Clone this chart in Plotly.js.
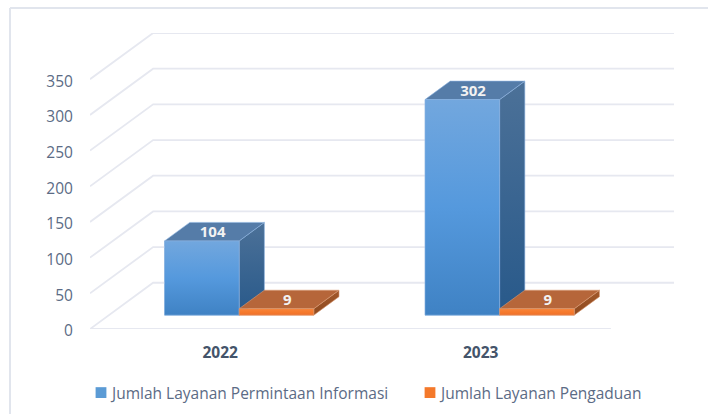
<!DOCTYPE html>
<html><head><meta charset="utf-8">
<script src="https://cdn.plot.ly/plotly-3.0.1.min.js"></script>
<style>html,body{margin:0;padding:0;background:#fff}#c{width:708px;height:414px}</style>
</head><body><div id="c"></div>
<script>
const categories = ['2022', '2023'];
const permintaan = [104, 302];
const pengaduan = [9, 9];
const seriesNames = ['Jumlah Layanan Permintaan Informasi', 'Jumlah Layanan Pengaduan'];
const yTicks = [0, 50, 100, 150, 200, 250, 300, 350];

// oblique projection of the depth axis, in axis units per unit of depth
const DX = 0.2423, DY = 64.8;
const BAR_W = 0.2865, D0 = 0.3, D1 = 0.7;
const px = (x, d) => x + DX * d;
const py = (v, d) => v + DY * d;
const FONT = '"Open Sans", sans-serif';
const GRID = '#E6E8F0';
const traces = [];

yTicks.forEach(v => {
  traces.push({type:'scatter', mode:'lines', x:[-0.5, px(-0.5,1), px(1.5,1)], y:[v, py(v,1), py(v,1)],
    line:{color:GRID, width:1.8}, showlegend:false, hoverinfo:'skip', cliponaxis:false});
});
traces.push({type:'scatter', mode:'lines', x:[-0.5, 1.5], y:[0, 0], line:{color:GRID, width:1.8},
  showlegend:false, hoverinfo:'skip', cliponaxis:false});

const styles = [
  {legend:'#5B9BD5', front:['#3F82C4','#5599DD','#72A7DE'], side:['#28598A','#4C7198'], top:'#557CA8', edge:'#8DB4E0'},
  {legend:'#F4792B', front:['#F0702A','#F67A2C','#F8843A'], side:['#8F4A1F','#A2582B'], top:'#B6663A', edge:'#D99A75'}
];
[permintaan, pengaduan].forEach((vals, s) => {
  traces.push({type:'bar', name:seriesNames[s], x:categories.map((_, i) => i + (s ? 0 : -BAR_W) + DX*D0),
    y:vals, base:vals.map(() => DY*D0), width:BAR_W, offset:0,
    marker:{color:styles[s].legend}, hoverinfo:'skip', legend: s ? 'legend2' : 'legend'});
});
function face(xs, ys, fill, edge) {
  const t = {type:'scatter', mode:'lines', x:xs.concat(xs[0]), y:ys.concat(ys[0]), fill:'toself',
    line:{color:edge, width:0.6}, showlegend:false, hoverinfo:'skip', cliponaxis:false};
  if (Array.isArray(fill)) {
    t.fillgradient = {type:'vertical', colorscale: fill.map((c, i) => [i/(fill.length-1), c])};
  } else t.fillcolor = fill;
  return t;
}
const labels = {x:[], y:[], text:[]};
categories.forEach((_, i) => {
  [permintaan, pengaduan].forEach((vals, s) => {
    const v = vals[i], st = styles[s];
    const a = i + (s ? 0 : -BAR_W), b = a + BAR_W;
    traces.push(face([px(b,D0),px(b,D1),px(b,D1),px(b,D0)], [py(0,D0),py(0,D1),py(v,D1),py(v,D0)], st.side, st.edge));
    traces.push(face([px(a,D0),px(b,D0),px(b,D1),px(a,D1)], [py(v,D0),py(v,D0),py(v,D1),py(v,D1)], st.top, st.edge));
    traces.push(face([px(a,D0),px(b,D0),px(b,D0),px(a,D0)], [py(0,D0),py(0,D0),py(v,D0),py(v,D0)], st.front, st.edge));
    labels.x.push(px((a+b)/2, 0.5) - 0.007); labels.y.push(py(v, 0.5) - 2.5); labels.text.push(String(v));
  });
});
traces.push({type:'scatter', mode:'text', x:labels.x, y:labels.y, text:labels.text, textposition:'middle center',
  textfont:{family:FONT, size:15, color:'#F2F2F2', weight:700}, showlegend:false, hoverinfo:'skip', cliponaxis:false});

const W = 584, H = 296;
const legendBase = {orientation:'h', xanchor:'left', y:(329-393)/H, yanchor:'middle',
  font:{family:FONT, size:15.5, color:'#5B6B85'}, bgcolor:'rgba(0,0,0,0)', indentation:-15};
const layout = {
  width:708, height:414, margin:{l:90, r:34, t:33, b:85, pad:0, autoexpand:false},
  paper_bgcolor:'#fff', plot_bgcolor:'rgba(0,0,0,0)', barmode:'overlay',
  font:{family:FONT, size:15.5, color:'#5B6B85'},
  xaxis:{range:[-0.5, 1.7423], tickmode:'array', tickvals:categories.map((_, i) => i), ticktext:categories,
    showgrid:false, zeroline:false, showline:false, ticks:'outside', ticklen:9, tickcolor:'rgba(0,0,0,0)',
    tickfont:{family:FONT, size:15.5, color:'#44546A', weight:700}, fixedrange:true},
  yaxis:{range:[0, 414.8], tickmode:'array', tickvals:yTicks, showgrid:false, zeroline:false, showline:false,
    ticks:'outside', ticklen:13, tickcolor:'rgba(0,0,0,0)', ticklabelshift:2,
    tickfont:{family:FONT, size:15.5, color:'#5B6B85'}, fixedrange:true},
  legend:Object.assign({x:(87-90)/W}, legendBase),
  legend2:Object.assign({x:(416-90)/W}, legendBase),
  shapes:[
    {type:'line', xref:'paper', yref:'paper', x0:-80/W, x1:618/W, y0:321/H, y1:321/H, line:{color:'#E1E5ED', width:2}, layer:'below'},
    {type:'line', xref:'paper', yref:'paper', x0:-80/W, x1:-80/W, y0:321/H, y1:-85/H, line:{color:'#E1E5ED', width:2}, layer:'below'}
  ]
};
Plotly.newPlot('c', traces, layout, {displayModeBar:false, staticPlot:true}).then(gd => {
  // tighten the legend swatches towards their text
  gd.querySelectorAll('.legendpoints').forEach(el => el.setAttribute('transform', 'translate(11,0) scale(0.9)'));
});
</script></body></html>
